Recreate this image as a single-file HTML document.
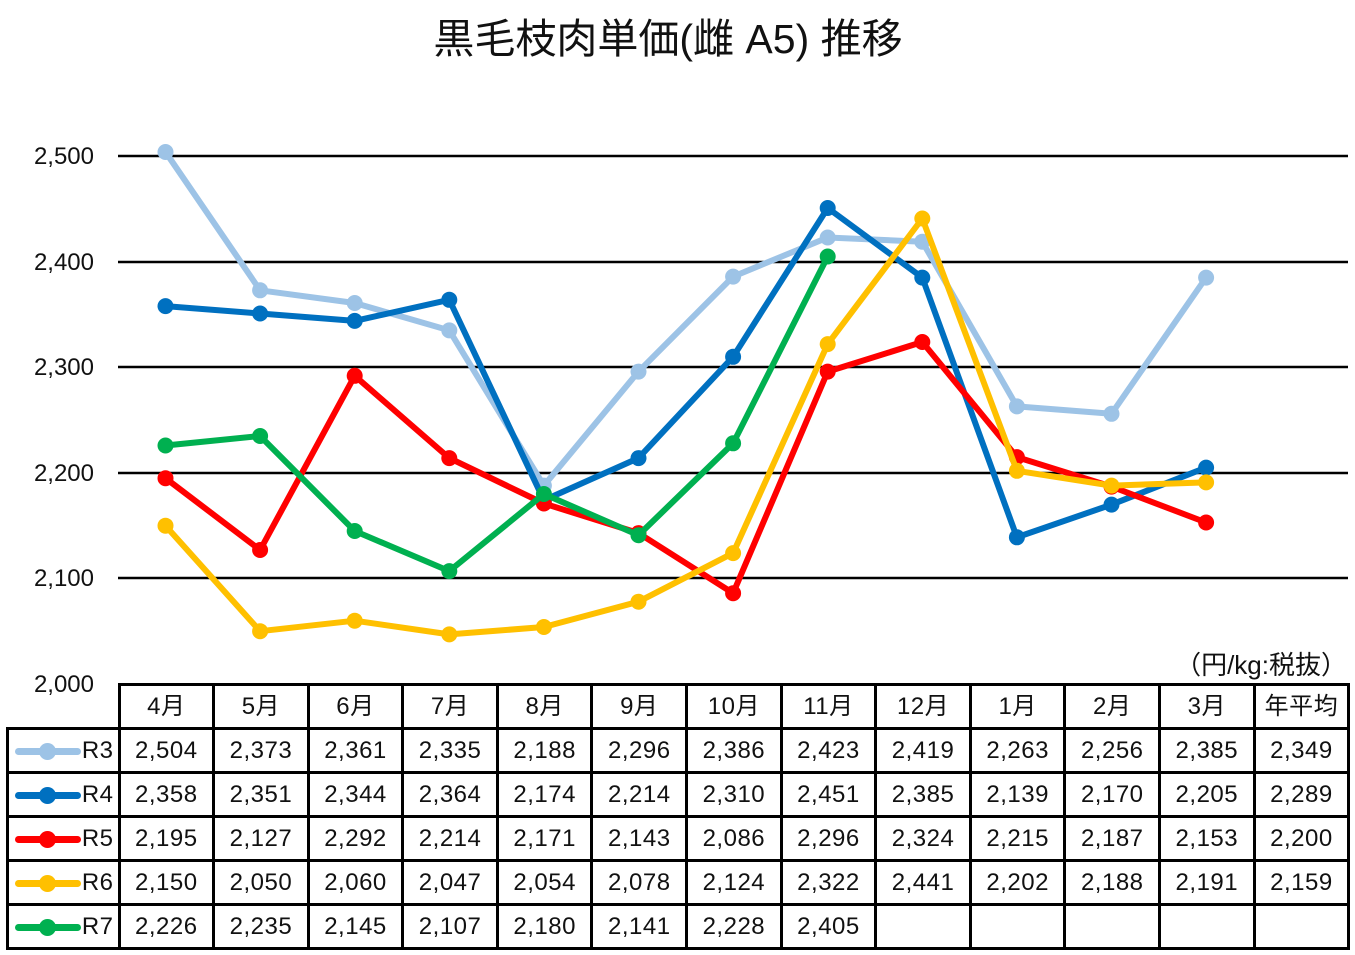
<!DOCTYPE html>
<html><head><meta charset="utf-8"><style>
body{margin:0;width:1355px;height:955px;background:#fff;overflow:hidden;font-family:"Liberation Sans","Noto Sans CJK JP",sans-serif;}
svg{position:absolute;left:0;top:0}
table{position:absolute;border-collapse:collapse;font-size:24px;color:#111;letter-spacing:0.5px}
td{border:3px solid #000;text-align:center;padding:0;height:41px;width:91.6px;line-height:41px}
.lg{width:104px;text-align:right;padding-right:4px;position:relative}
.lg span{position:absolute;left:6px;top:18px;width:66px;height:7px;border-radius:4px}
.lg span:after{content:"";position:absolute;left:24px;top:-5px;width:17px;height:17px;border-radius:50%;background:inherit}
</style></head><body>
<svg id="s" width="1355" height="955">
<text x="668" y="53" font-size="41" text-anchor="middle" fill="#111" font-family="Liberation Sans,Noto Sans CJK JP,sans-serif">黒毛枝肉単価(雌 A5) 推移</text>
<g stroke="#000" stroke-width="2.5">
<line x1="118" x2="1348" y1="156" y2="156"/><line x1="118" x2="1348" y1="262" y2="262"/><line x1="118" x2="1348" y1="367" y2="367"/><line x1="118" x2="1348" y1="473" y2="473"/><line x1="118" x2="1348" y1="578" y2="578"/>
</g>
<g font-size="24" fill="#111" text-anchor="end" font-family="Liberation Sans,sans-serif">
<text x="94" y="164">2,500</text><text x="94" y="270">2,400</text><text x="94" y="375">2,300</text><text x="94" y="481">2,200</text><text x="94" y="586">2,100</text><text x="94" y="692">2,000</text>
</g>
<text x="1347" y="674" font-size="26" text-anchor="end" fill="#111" font-family="Liberation Sans,Noto Sans CJK JP,sans-serif">（円/kg:税抜）</text>
<g id="g"></g>
</svg>
<table style="left:6px;top:683px">
<tr><td style="border:none;border-bottom:3px solid #000;width:110px"></td><td>4月</td><td>5月</td><td>6月</td><td>7月</td><td>8月</td><td>9月</td><td>10月</td><td>11月</td><td>12月</td><td>1月</td><td>2月</td><td>3月</td><td>年平均</td></tr>
<tr><td class="lg"><span style="background:#9dc3e6"></span>R3</td><td>2,504</td><td>2,373</td><td>2,361</td><td>2,335</td><td>2,188</td><td>2,296</td><td>2,386</td><td>2,423</td><td>2,419</td><td>2,263</td><td>2,256</td><td>2,385</td><td>2,349</td></tr>
<tr><td class="lg"><span style="background:#0070c0"></span>R4</td><td>2,358</td><td>2,351</td><td>2,344</td><td>2,364</td><td>2,174</td><td>2,214</td><td>2,310</td><td>2,451</td><td>2,385</td><td>2,139</td><td>2,170</td><td>2,205</td><td>2,289</td></tr>
<tr><td class="lg"><span style="background:#ff0000"></span>R5</td><td>2,195</td><td>2,127</td><td>2,292</td><td>2,214</td><td>2,171</td><td>2,143</td><td>2,086</td><td>2,296</td><td>2,324</td><td>2,215</td><td>2,187</td><td>2,153</td><td>2,200</td></tr>
<tr><td class="lg"><span style="background:#ffc000"></span>R6</td><td>2,150</td><td>2,050</td><td>2,060</td><td>2,047</td><td>2,054</td><td>2,078</td><td>2,124</td><td>2,322</td><td>2,441</td><td>2,202</td><td>2,188</td><td>2,191</td><td>2,159</td></tr>
<tr><td class="lg"><span style="background:#00b050"></span>R7</td><td>2,226</td><td>2,235</td><td>2,145</td><td>2,107</td><td>2,180</td><td>2,141</td><td>2,228</td><td>2,405</td><td></td><td></td><td></td><td></td><td></td></tr>
</table>
<script>
var D=[["#9dc3e6",[2504,2373,2361,2335,2188,2296,2386,2423,2419,2263,2256,2385]],
["#0070c0",[2358,2351,2344,2364,2174,2214,2310,2451,2385,2139,2170,2205]],
["#ff0000",[2195,2127,2292,2214,2171,2143,2086,2296,2324,2215,2187,2153]],
["#ffc000",[2150,2050,2060,2047,2054,2078,2124,2322,2441,2202,2188,2191]],
["#00b050",[2226,2235,2145,2107,2180,2141,2228,2405]]];
var h="";D.forEach(function(d){var p=d[1].map(function(v,i){return (165.5+i*94.6).toFixed(1)+","+(684-(v-2000)*1.0555).toFixed(1)});
h+='<polyline fill="none" stroke="'+d[0]+'" stroke-width="6" stroke-linejoin="round" points="'+p.join(" ")+'"/>';
p.forEach(function(q){var c=q.split(",");h+='<circle cx="'+c[0]+'" cy="'+c[1]+'" r="8" fill="'+d[0]+'"/>'});});
document.getElementById("g").innerHTML=h;
</script>
</body></html>
